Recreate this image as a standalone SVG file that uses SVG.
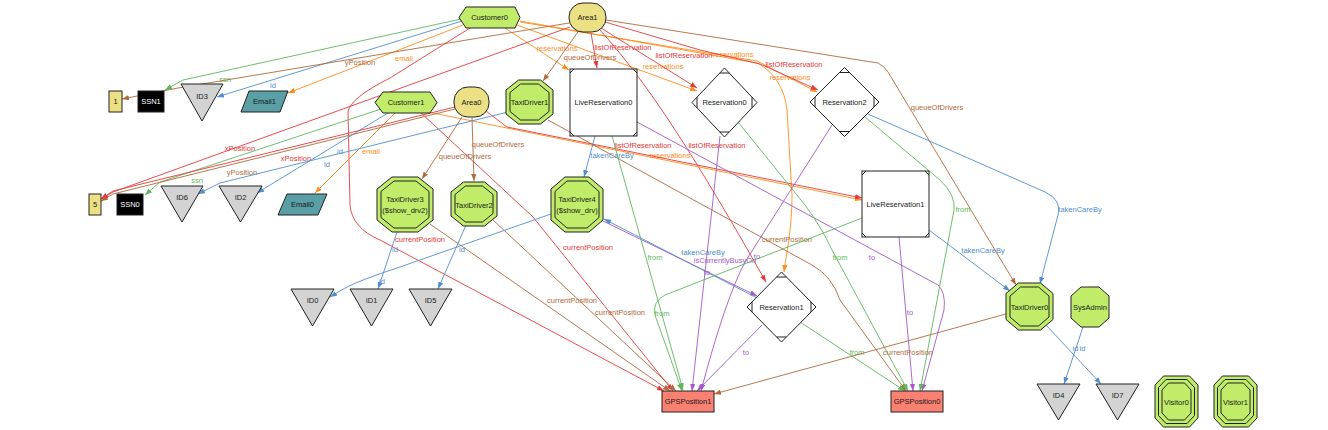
<svg xmlns="http://www.w3.org/2000/svg" width="1328" height="430" viewBox="0 0 1328 430">
<style>
text{font-family:"Liberation Sans",Arial,sans-serif;font-size:7.5px;text-anchor:middle;dominant-baseline:central}
.n polygon,.n rect{stroke:#222;stroke-width:1}
.n text{fill:#1a1a1a}
.g{fill:#c0ec6a}.k{fill:#ece085}.t{fill:#5a9ea6}.s{fill:#fa8072}.y{fill:#d3d3d3}.w{fill:#fff}.b{fill:#000}
.ln{fill:none;stroke:#222;stroke-width:1}
.e path{fill:none;stroke-width:0.9}
.R{stroke:#e8393a}.B{stroke:#4f8fcf}.G{stroke:#5cb85c}.O{stroke:#ff8c1a}.N{stroke:#b06a3b}.P{stroke:#a359c6}
.tR{fill:#e8393a}.tB{fill:#4f8fcf}.tG{fill:#5cb85c}.tO{fill:#ff8c1a}.tN{fill:#b06a3b}.tP{fill:#a359c6}
.R{marker-end:url(#mR)}.B{marker-end:url(#mB)}.G{marker-end:url(#mG)}.O{marker-end:url(#mO)}.N{marker-end:url(#mN)}.P{marker-end:url(#mP)}
</style>
<defs>
<marker id="mR" viewBox="0 0 8 6" refX="8" refY="3" markerWidth="7" markerHeight="5.25" markerUnits="userSpaceOnUse" orient="auto"><path d="M0,0L8,3L0,6z" fill="#e8393a"/></marker>
<marker id="mB" viewBox="0 0 8 6" refX="8" refY="3" markerWidth="7" markerHeight="5.25" markerUnits="userSpaceOnUse" orient="auto"><path d="M0,0L8,3L0,6z" fill="#4f8fcf"/></marker>
<marker id="mG" viewBox="0 0 8 6" refX="8" refY="3" markerWidth="7" markerHeight="5.25" markerUnits="userSpaceOnUse" orient="auto"><path d="M0,0L8,3L0,6z" fill="#5cb85c"/></marker>
<marker id="mO" viewBox="0 0 8 6" refX="8" refY="3" markerWidth="7" markerHeight="5.25" markerUnits="userSpaceOnUse" orient="auto"><path d="M0,0L8,3L0,6z" fill="#ff8c1a"/></marker>
<marker id="mN" viewBox="0 0 8 6" refX="8" refY="3" markerWidth="7" markerHeight="5.25" markerUnits="userSpaceOnUse" orient="auto"><path d="M0,0L8,3L0,6z" fill="#b06a3b"/></marker>
<marker id="mP" viewBox="0 0 8 6" refX="8" refY="3" markerWidth="7" markerHeight="5.25" markerUnits="userSpaceOnUse" orient="auto"><path d="M0,0L8,3L0,6z" fill="#a359c6"/></marker>
</defs>
<rect width="1328" height="430" fill="#fff"/>

<g id="connectors" class="e">
<!-- Customer0 -->
<path class="G" d="M461 19 L183 80 L165 90"/><text class="tG" x="225" y="79">ssn</text>
<path class="B" d="M462 21 L217 97"/><text class="tB" x="273" y="85">id</text>
<path class="O" d="M463 25 L288 93"/><text class="tO" x="404" y="58">email</text>
<path class="O" d="M505 28 L569 70"/><text class="tO" x="557" y="48">reservations</text>
<path class="O" d="M517 25 L697 91"/><text class="tO" x="663" y="66">reservations</text>
<path class="O" d="M520 22 L757 61 L817 92"/><text class="tO" x="733" y="54">reservations</text>
<path class="O" d="M520 21 L757 63 C775 72 785 90 787 110 L792 195 C792 230 786 255 784 272"/><text class="tO" x="790" y="77">reservations</text>
<path class="R" d="M470 28 L390 78 Q350 98 348 112 L350 205 Q352 228 380 240 L664 391"/><text class="tR" x="420" y="239">currentPosition</text>
<!-- Area1 -->
<path class="N" d="M578 32 L543 81"/><text class="tN" x="590" y="57">queueOfDrivers</text>
<path class="R" d="M591 33 L597 68"/><text class="tR" x="623" y="47">listOfReservation</text>
<path class="R" d="M601 28 L697 88"/><text class="tR" x="684" y="55">listOfReservation</text>
<path class="R" d="M605 22 L700 50 L760 64 L818 90"/><text class="tR" x="794" y="64">listOfReservation</text>
<path class="R" d="M600 30 C640 75 680 130 766 282"/><text class="tR" x="717" y="145">listOfReservation</text>
<path class="N" d="M606 20 L878 63 Q884 66 888 72 L1016 285"/><text class="tN" x="937" y="107">queueOfDrivers</text>
<path class="N" d="M569 23 L178 88 L122 99"/><text class="tN" x="360" y="62">yPosition</text>
<path class="R" d="M570 27 L113 192 L101 199"/><text class="tR" x="240" y="148">xPosition</text>
<!-- Customer1 -->
<path class="G" d="M384 108 L160 182 L145 195"/><text class="tG" x="197" y="180">ssn</text>
<path class="B" d="M388 113 L257 193"/><text class="tB" x="327" y="164">id</text>
<path class="O" d="M395 113 L315 193"/><text class="tO" x="371" y="151">email</text>
<path class="R" d="M420 112 L533 217 L673 391"/><text class="tR" x="588" y="247">currentPosition</text>
<path class="O" d="M423 111 L862 200"/><text class="tO" x="670" y="155">reservations</text>
<!-- Area0 -->
<path class="N" d="M462 117 L422 179"/><text class="tN" x="465" y="156">queueOfDrivers</text>
<path class="N" d="M472 118 L474 181"/><text class="tN" x="498" y="144">queueOfDrivers</text>
<path class="N" d="M455 109 L113 194 L101 201"/><text class="tN" x="242" y="172">yPosition</text>
<path class="R" d="M455 107 L113 191 L101 199"/><text class="tR" x="296" y="158">xPosition</text>
<path class="R" d="M486 111 L507 127 L862 198"/><text class="tR" x="643" y="145">listOfReservation</text>
<!-- TaxiDriver1 -->
<path class="B" d="M508 112 L220 183 L198 194"/><text class="tB" x="340" y="151">id</text>
<path class="N" d="M548 120 L812 265 Q832 276 840 300 L906 391"/><text class="tN" x="787" y="239">currentPosition</text>
<!-- TaxiDriver3 / 2 / 4 -->
<path class="B" d="M397 232 L378 289"/><text class="tB" x="395" y="249">id</text>
<path class="N" d="M430 224 L670 391"/><text class="tN" x="572" y="300">currentPosition</text>
<path class="B" d="M466 225 L438 289"/><text class="tB" x="462" y="249">id</text>
<path class="N" d="M493 220 L676 391"/><text class="tN" x="620" y="312">currentPosition</text>
<path class="B" d="M551 214 L400 267 Q360 280 345 288 L330 297"/><text class="tB" x="382" y="281">id</text>
<path class="P" d="M603 221 L757 296"/><text class="tP" x="725" y="260">isCurrentlyBusyOn</text>
<!-- Reservation1 -->
<path class="B" d="M757 298 L604 219"/><text class="tB" x="703" y="252">takenCareBy</text>
<path class="G" d="M800 322 L905 391"/><text class="tG" x="857" y="352">from</text>
<path class="P" d="M762 325 L697 391"/><text class="tP" x="746" y="352">to</text>
<!-- LiveReservation0 -->
<path class="B" d="M595 136 L584 177"/><text class="tB" x="612" y="155">takenCareBy</text>
<path class="G" d="M612 136 L683 390"/><text class="tG" x="655" y="257">from</text>
<path class="P" d="M637 122 L938 285 Q946 292 944 310 L922 391"/><text class="tP" x="872" y="257">to</text>
<!-- Reservation0 -->
<path class="G" d="M738 122 L805 205 Q822 228 832 250 L908 391"/><text class="tG" x="840" y="257">from</text>
<path class="P" d="M720 136 L692 391"/><text class="tP" x="707" y="272">to</text>
<!-- Reservation2 -->
<path class="P" d="M832 125 L745 262 Q725 300 701 391"/><text class="tP" x="757" y="256">to</text>
<path class="B" d="M868 114 L1045 192 Q1062 200 1058 215 L1040 284"/><text class="tB" x="1080" y="209">takenCareBy</text>
<path class="G" d="M865 117 L940 180 Q956 195 954 210 L920 391"/><text class="tG" x="963" y="209">from</text>
<!-- LiveReservation1 -->
<path class="B" d="M929 230 L1010 291"/><text class="tB" x="983" y="250">takenCareBy</text>
<path class="P" d="M899 237 L913 391"/><text class="tP" x="910" y="312">to</text>
<path class="G" d="M862 218 L665 295 Q652 302 655 315 L682 391"/><text class="tG" x="662" y="313">from</text>
<!-- TaxiDriver0 / SysAdmin -->
<path class="N" d="M1006 314 L714 394"/><text class="tN" x="908" y="352">currentPosition</text>
<path class="B" d="M1046 325 L1101 384"/><text class="tB" x="1082.5" y="348">id</text>
<path class="B" d="M1083 327 L1064 384"/><text class="tB" x="1075.5" y="348">id</text>
</g>

<g id="Customer0" class="n"><polygon class="g" points="459,17.5 466,7 515,7 520,17.5 515,28 466,28"/><text x="489.5" y="17.5">Customer0</text></g>
<g id="Area1" class="n"><rect class="k" x="569" y="3" width="37" height="29" rx="14"/><text x="587.5" y="17.5">Area1</text></g>
<g id="Customer1" class="n"><polygon class="g" points="375,102.5 383,92 430,92 437,102.5 430,113 383,113"/><text x="406" y="102.5">Customer1</text></g>
<g id="Area0" class="n"><rect class="k" x="454" y="87" width="35" height="30" rx="14"/><text x="471.5" y="102">Area0</text></g>
<g id="TaxiDriver1" class="n"><polygon class="g" points="518.5,80 540.5,80 553,90 553,114 540.5,124 518.5,124 506,114 506,90"/><polygon class="g" points="520.5,84 538.5,84 549,92.5 549,111.5 538.5,120 520.5,120 510,111.5 510,92.5"/><text x="529.5" y="102">TaxiDriver1</text></g>
<g id="LiveReservation0" class="n"><rect class="w" x="570" y="69" width="67" height="67"/><path class="ln" d="M570 73L574 69M633 69L637 73M637 132L633 136M574 136L570 132"/><text x="603.5" y="102.5">LiveReservation0</text></g>
<g id="Reservation0" class="n"><polygon class="w" points="724.5,68 757,102.5 724.5,137 692,102.5"/><path class="ln" d="M719.8 73H729.2M719.8 132H729.2M697 97.2V107.8M752 97.2V107.8"/><text x="724.5" y="102.5">Reservation0</text></g>
<g id="Reservation2" class="n"><polygon class="w" points="844.5,67.5 879,102 844.5,136.5 810,102"/><path class="ln" d="M839.5 72.5H849.5M839.5 131.5H849.5M815 97V107M874 97V107"/><text x="844.5" y="102">Reservation2</text></g>
<g id="n1" class="n"><rect class="k" x="109" y="91" width="13" height="21"/><text x="115.5" y="101.5">1</text></g>
<g id="SSN1" class="n"><rect class="b" x="138" y="91" width="26" height="21"/><text x="151" y="101.5" style="fill:#fff">SSN1</text></g>
<g id="ID3" class="n"><polygon class="y" points="181,84 223,84 202,121"/><text x="202" y="96">ID3</text></g>
<g id="Email1" class="n"><polygon class="t" points="249,91 288,91 280,112 241,112"/><text x="264.5" y="101.5">Email1</text></g>
<g id="n5" class="n"><rect class="k" x="89" y="194" width="12" height="21"/><text x="95" y="204.5">5</text></g>
<g id="SSN0" class="n"><rect class="b" x="117" y="194" width="26" height="21"/><text x="130" y="204.5" style="fill:#fff">SSN0</text></g>
<g id="ID6" class="n"><polygon class="y" points="161,186 203,186 182,222"/><text x="182" y="197">ID6</text></g>
<g id="ID2" class="n"><polygon class="y" points="219,186 262,186 240.5,222"/><text x="240.5" y="197">ID2</text></g>
<g id="Email0" class="n"><polygon class="t" points="287,194 327,194 318,215 278,215"/><text x="302.5" y="204.5">Email0</text></g>
<g id="TaxiDriver3" class="n"><polygon class="g" points="392,177 418,177 433,189 433,220 418,232 392,232 377,220 377,189"/><polygon class="g" points="394,181 416,181 429,191.5 429,217.5 416,228 394,228 381,217.5 381,191.5"/><text x="405" y="199.5">TaxiDriver3</text><text x="405" y="210">($show_drv2)</text></g>
<g id="TaxiDriver2" class="n"><polygon class="g" points="463.5,182 484.5,182 497,192 497,216 484.5,226 463.5,226 451,216 451,192"/><polygon class="g" points="465.5,186 482.5,186 493,194.5 493,213.5 482.5,222 465.5,222 455,213.5 455,194.5"/><text x="474" y="205">TaxiDriver2</text></g>
<g id="TaxiDriver4" class="n"><polygon class="g" points="565,177 589,177 603,189 603,220 589,232 565,232 551,220 551,189"/><polygon class="g" points="567,181 587,181 599,191.5 599,217.5 587,228 567,228 555,217.5 555,191.5"/><text x="577" y="199.5">TaxiDriver4</text><text x="577" y="210">($show_drv)</text></g>
<g id="LiveReservation1" class="n"><rect class="w" x="862" y="171" width="67" height="66"/><path class="ln" d="M862 175L866 171M925 171L929 175M929 233L925 237M866 237L862 233"/><text x="895.5" y="204">LiveReservation1</text></g>
<g id="ID0" class="n"><polygon class="y" points="291,289 334,289 312.5,326"/><text x="312.5" y="300">ID0</text></g>
<g id="ID1" class="n"><polygon class="y" points="350,289 393,289 371.5,326"/><text x="371.5" y="300">ID1</text></g>
<g id="ID5" class="n"><polygon class="y" points="409,289 452,289 430.5,326"/><text x="430.5" y="300">ID5</text></g>
<g id="Reservation1" class="n"><polygon class="w" points="781.5,272 816,307 781.5,342 747,307"/><path class="ln" d="M776.6 277H786.4M776.6 337H786.4M752 301.9V312.1M811 301.9V312.1"/><text x="781.5" y="307">Reservation1</text></g>
<g id="TaxiDriver0" class="n"><polygon class="g" points="1018.5,283 1040.5,283 1053,293.5 1053,319.5 1040.5,330 1018.5,330 1006,319.5 1006,293.5"/><polygon class="g" points="1020.5,287 1038.5,287 1049,296 1049,317 1038.5,326 1020.5,326 1010,317 1010,296"/><text x="1029.5" y="307">TaxiDriver0</text></g>
<g id="SysAdmin" class="n"><polygon class="g" points="1081,287 1099,287 1109,296 1109,318 1099,327 1081,327 1071,318 1071,296"/><text x="1090" y="307">SysAdmin</text></g>
<g id="ID4" class="n"><polygon class="y" points="1037,384 1080,384 1058.5,420"/><text x="1058.5" y="395">ID4</text></g>
<g id="ID7" class="n"><polygon class="y" points="1096,384 1139,384 1117.5,420"/><text x="1117.5" y="395">ID7</text></g>
<g id="Visitor0" class="n"><polygon class="g" points="1163.5,376 1189.5,376 1198,385 1198,418 1189.5,427 1163.5,427 1155,418 1155,385"/><polygon class="g" points="1166,379.5 1187,379.5 1194.5,387.5 1194.5,415.5 1187,423.5 1166,423.5 1158.5,415.5 1158.5,387.5"/><polygon class="g" points="1168.5,383 1184.5,383 1191,390 1191,413 1184.5,420 1168.5,420 1162,413 1162,390"/><text x="1176.5" y="402">Visitor0</text></g>
<g id="Visitor1" class="n"><polygon class="g" points="1222.5,376 1248.5,376 1257,385 1257,418 1248.5,427 1222.5,427 1214,418 1214,385"/><polygon class="g" points="1225,379.5 1246,379.5 1253.5,387.5 1253.5,415.5 1246,423.5 1225,423.5 1217.5,415.5 1217.5,387.5"/><polygon class="g" points="1227.5,383 1243.5,383 1250,390 1250,413 1243.5,420 1227.5,420 1221,413 1221,390"/><text x="1235.5" y="402">Visitor1</text></g>
<g id="GPSPosition1" class="n"><rect class="s" x="662" y="391" width="52" height="21"/><text x="688" y="401.5">GPSPosition1</text></g>
<g id="GPSPosition0" class="n"><rect class="s" x="891" y="391" width="52" height="21"/><text x="917" y="401.5">GPSPosition0</text></g>
</svg>
